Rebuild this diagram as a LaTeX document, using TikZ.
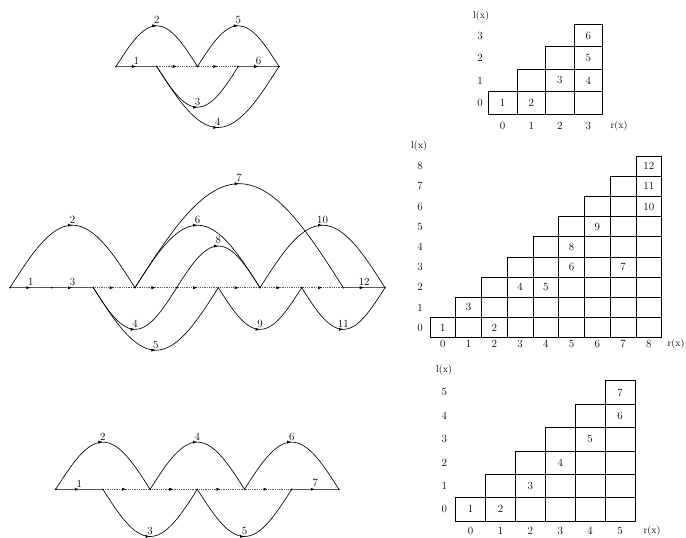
\documentclass[tikz,border=0pt]{standalone}
\usetikzlibrary{arrows.meta,decorations.markings,calc}
\tikzset{
  midarrow/.style={postaction={decorate},decoration={markings,mark=at position 0.5 with {\arrow[black]{Latex[length=4.5pt,width=3.2pt]}}}},
  baseln/.style={line width=1.2pt,draw=black!65,midarrow},
  dotln/.style={line width=0.8pt,draw=black!65,densely dotted,midarrow},
  arcln/.style={line width=0.65pt,draw=black,midarrow},
  lab/.style={font=\fontsize{11}{13}\selectfont,inner sep=1.5pt,anchor=south},
  cell/.style={draw=black,line width=0.7pt},
  ax/.style={font=\fontsize{11}{13}\selectfont,inner sep=0pt},
  axt/.style={font=\fontsize{10}{12}\selectfont,inner sep=0pt},
}
\newcommand\uparc[5]{\draw[arcln] (#1) sin ($(#1)!0.5!(#2)+(0,-#3)$) node[lab] (#5) {#4} cos (#2);}
\newcommand\dnarc[5]{\draw[arcln] (#1) sin ($(#1)!0.5!(#2)+(0,#3)$) node[lab] (#5) {#4} cos (#2);}
\newcommand\soledge[4]{\draw[baseln] (#1) -- node[lab] (#4) {#3} (#2);}
\newcommand\dotedge[2]{\draw[dotln] (#1) -- (#2);}
\newcommand\stair[9]{%
  \foreach \j in {0,...,#5}{\foreach \i in {\j,...,#5}{\draw[cell] ({#1+\i*#3},{#2-\j*#4}) rectangle ++(#3,-#4);}}
  \foreach \k in {0,...,#5}{
    \node[#9] (#6r\k) at ({#1+(\k+0.5)*#3},#8) {\k};
    \node[#9] (#6l\k) at (#7,{#2-(\k+0.5)*#4}) {\k};}
}
\begin{document}
\begin{tikzpicture}[x=1pt,y=-1pt]
\useasboundingbox (0,0) rectangle (686,538);
% ---------- top-left diagram
\foreach \i/\x in {0/116,1/156.75,2/197.5,3/238.25,4/279} \coordinate (A\i) at (\x,66.5);
\soledge{A0}{A1}{1}{ta1}
\dotedge{A1}{A2}
\dotedge{A2}{A3}
\soledge{A3}{A4}{6}{ta6}
\uparc{A0}{A2}{40.75}{2}{ta2}
\uparc{A2}{A4}{40.75}{5}{ta5}
\dnarc{A1}{A3}{40.75}{3}{ta3}
\dnarc{A1}{A4}{61}{4}{ta4}
\foreach \i in {0,...,4} \fill (A\i) circle (0.9pt);
% ---------- middle-left diagram
\foreach \i in {0,...,9} \coordinate (B\i) at ({10+41.667*\i},287.7);
\soledge{B0}{B1}{1}{tb1}
\soledge{B1}{B2}{3}{tb3}
\foreach \i [evaluate=\i as \n using int(\i+1)] in {2,...,7} \dotedge{B\i}{B\n};
\soledge{B8}{B9}{12}{tb12}
\uparc{B0}{B3}{62.5}{2}{tb2}
\dnarc{B2}{B4}{41.67}{4}{tb4}
\dnarc{B2}{B5}{62.5}{5}{tb5}
\uparc{B3}{B6}{62.5}{6}{tb6}
\uparc{B3}{B8}{104}{7}{tb7}
\uparc{B4}{B6}{41.67}{8}{tb8}
\dnarc{B5}{B7}{41.67}{9}{tb9}
\uparc{B6}{B9}{62.5}{10}{tb10}
\dnarc{B7}{B9}{41.67}{11}{tb11}
\foreach \i in {0,...,9} \fill (B\i) circle (0.9pt);
% ---------- bottom-left diagram
\foreach \i in {0,...,6} \coordinate (C\i) at ({55.7+47.2*\i},489.3);
\soledge{C0}{C1}{1}{tc1}
\foreach \i [evaluate=\i as \n using int(\i+1)] in {1,...,4} \dotedge{C\i}{C\n};
\soledge{C5}{C6}{7}{tc7}
\uparc{C0}{C2}{47.2}{2}{tc2}
\dnarc{C1}{C3}{47.2}{3}{tc3}
\uparc{C2}{C4}{47.2}{4}{tc4}
\dnarc{C3}{C5}{47.2}{5}{tc5}
\uparc{C4}{C6}{47.2}{6}{tc6}
\foreach \i in {0,...,6} \fill (C\i) circle (0.9pt);
% ---------- grid 1
\stair{488.3}{114}{28.6}{22.4}{3}{ga}{480}{125.5}{ax}
\node[axt] (galx) at (481,15.5) {l(x)};
\node[axt] (garx) at (619,125.5) {r(x)};
\foreach \r/\l/\t in {0/0/1,1/0/2,2/1/3,3/1/4,3/2/5,3/3/6}
  \node[ax] (gan\t) at ({488.3+(\r+0.5)*28.6},{114-(\l+0.5)*22.4}) {\t};
% ---------- grid 2
\stair{430}{337.7}{25.74}{20.19}{8}{gb}{420}{344}{ax}
\node[axt] (gblx) at (419,146) {l(x)};
\node[axt] (gbrx) at (676,344) {r(x)};
\foreach \r/\l/\t in {0/0/1,2/0/2,1/1/3,3/2/4,4/2/5,5/3/6,7/3/7,5/4/8,6/5/9,8/6/10,8/7/11,8/8/12}
  \node[ax] (gbn\t) at ({430+(\r+0.5)*25.74},{337.7-(\l+0.5)*20.19}) {\t};
% ---------- grid 3
\stair{455.7}{521}{29.88}{23.38}{5}{gc}{444.3}{531}{ax}
\node[axt] (gclx) at (444,370) {l(x)};
\node[axt] (gcrx) at (652,531) {r(x)};
\foreach \r/\l/\t in {0/0/1,1/0/2,2/1/3,3/2/4,4/3/5,5/4/6,5/5/7}
  \node[ax] (gcn\t) at ({455.7+(\r+0.5)*29.88},{521-(\l+0.5)*23.38}) {\t};
\end{tikzpicture}
\end{document}
